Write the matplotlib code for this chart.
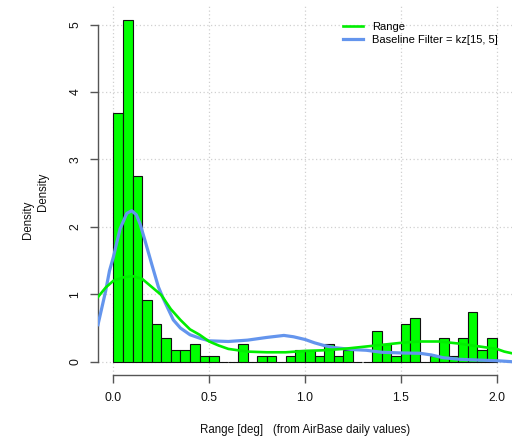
import numpy as np
import matplotlib
matplotlib.use("Agg")
import matplotlib.pyplot as plt

plt.rcParams["font.family"] = ["Liberation Sans", "DejaVu Sans"]

# histogram of daily range, 0.05-wide bins from 0 to 2.0 (density scale)
bin_edges = np.round(np.arange(0, 2.0001, 0.05), 2)
density = [3.69, 5.07, 2.755, 0.91, 0.555, 0.356, 0.18, 0.18, 0.27, 0.09,
           0.09, 0.0, 0.0, 0.27, 0.0, 0.09, 0.09, 0.0, 0.09, 0.18,
           0.18, 0.09, 0.27, 0.09, 0.18, 0.0, 0.0, 0.455, 0.27, 0.09,
           0.555, 0.644, 0.0, 0.09, 0.356, 0.09, 0.356, 0.733, 0.18, 0.356]

# kernel density of the range itself
range_x = [-0.08, -0.04, 0.0, 0.05, 0.1, 0.15, 0.2, 0.25, 0.3, 0.35, 0.4,
           0.45, 0.5, 0.55, 0.6, 0.7, 0.8, 0.9, 1.0, 1.1, 1.2, 1.3, 1.4,
           1.5, 1.6, 1.7, 1.8, 1.9, 2.0, 2.04, 2.08]
range_y = [0.96, 1.1, 1.2, 1.25, 1.27, 1.23, 1.11, 0.99, 0.78, 0.62, 0.48,
           0.40, 0.30, 0.24, 0.19, 0.15, 0.14, 0.14, 0.16, 0.17, 0.19, 0.22, 0.25,
           0.28, 0.30, 0.30, 0.27, 0.23, 0.19, 0.15, 0.125]

# kernel density of the kz(15, 5) baseline
base_x = [-0.08, -0.06, -0.04, -0.02, 0.0, 0.035, 0.07, 0.096, 0.12, 0.14,
          0.165, 0.2, 0.235, 0.26, 0.313, 0.35, 0.4, 0.45, 0.5, 0.6, 0.7,
          0.8, 0.89, 0.94, 1.0, 1.05, 1.1, 1.15, 1.25, 1.32, 1.4, 1.5, 1.6,
          1.66, 1.72, 1.81, 1.9, 2.0, 2.08]
base_y = [0.55, 0.8, 1.05, 1.35, 1.55, 1.97, 2.2, 2.24, 2.18, 2.04,
          1.8, 1.45, 1.11, 0.94, 0.62, 0.5, 0.40, 0.35, 0.31, 0.30, 0.32,
          0.36, 0.39, 0.37, 0.33, 0.28, 0.24, 0.21, 0.18, 0.17, 0.14, 0.13, 0.125,
          0.10, 0.06, 0.035, 0.025, 0.015, 0.0]

x_ticks = [0.0, 0.5, 1.0, 1.5, 2.0]
y_ticks = [0, 1, 2, 3, 4, 5]

W, H = 514, 436
fig = plt.figure(figsize=(W / 100, H / 100), dpi=100)
ax = fig.add_axes([98 / W, (H - 375.4) / H, (512 - 98) / W, (375.4 - 5.6) / H])

ax.set_xlim(-0.08, 2.08)
ax.set_ylim(-0.203, 5.283)

# dotted grid underneath everything
for xv in x_ticks:
    ax.axvline(xv, color="#d0d0d0", lw=0.9, ls=(0, (1, 2)), zorder=0)
for yv in y_ticks:
    ax.axhline(yv, color="#d0d0d0", lw=0.9, ls=(0, (1, 2)), zorder=0)

ax.bar(bin_edges[:-1], density, width=0.05, align="edge", color="#00ff00",
       edgecolor="#111111", linewidth=0.8, zorder=2)

ax.plot(base_x, base_y, color="#6495ed", lw=2.3, label="Baseline Filter = kz[15, 5]", zorder=3)
ax.plot(range_x, range_y, color="#00ee00", lw=1.9, label="Range", zorder=4)

# R-style detached axes
for s in ["top", "right"]:
    ax.spines[s].set_visible(False)
for s in ["left", "bottom"]:
    ax.spines[s].set_color("#555555")
    ax.spines[s].set_linewidth(1.0)
ax.spines["left"].set_bounds(0, 5)
ax.spines["bottom"].set_bounds(0, 2)

ax.set_xticks(x_ticks)
ax.set_xticklabels(["0.0", "0.5", "1.0", "1.5", "2.0"])
ax.set_yticks(y_ticks)
ax.set_yticklabels([str(v) for v in y_ticks], rotation=90, va="center")
ax.tick_params(axis="both", colors="#555555", labelcolor="#111111",
               length=6, width=1.0, labelsize=8.8)
ax.tick_params(axis="x", pad=6)
ax.tick_params(axis="y", pad=6)

handles, labels = ax.get_legend_handles_labels()
leg = fig.legend(handles[::-1], labels[::-1], loc="upper left",
                 bbox_to_anchor=(343.3 / W, 1 - 21.5 / H), frameon=False,
                 fontsize=8, handlelength=1.8, handletextpad=0.75,
                 labelspacing=0.3, borderpad=0, borderaxespad=0)

fig.text(28 / W, 1 - 220 / H, "Density", rotation=90, ha="center", va="center",
         fontsize=8.3, color="#111111")
fig.text(43 / W, 1 - 192 / H, "Density", rotation=90, ha="center", va="center",
         fontsize=8.3, color="#111111")
fig.text(305 / W, 1 - 430 / H, "Range [deg]   (from AirBase daily values)",
         ha="center", va="center", fontsize=8.3, color="#111111")

fig.savefig("out.png", dpi=100)
